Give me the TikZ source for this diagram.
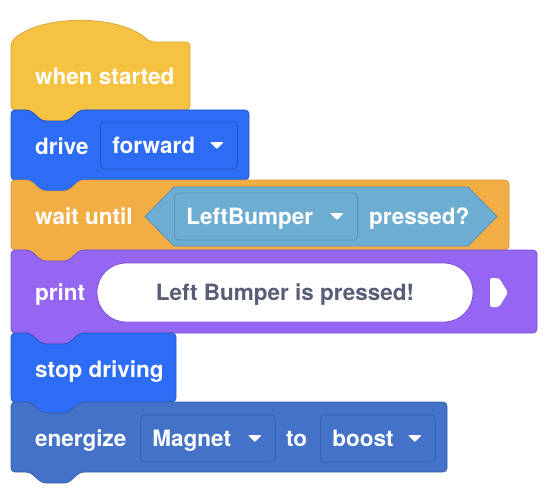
\documentclass[tikz,border=0pt]{standalone}
\usepackage{fontspec}
\setmainfont{TeX Gyre Heros}
\usetikzlibrary{calc,positioning}

\definecolor{hatfill}{HTML}{F5C242}
\definecolor{hatline}{HTML}{D9A93C}
\definecolor{drvfill}{HTML}{2D6CF5}
\definecolor{drvline}{HTML}{2656C4}
\definecolor{ctlfill}{HTML}{F2AE45}
\definecolor{ctlline}{HTML}{D7973C}
\definecolor{snsfill}{HTML}{6DADD2}
\definecolor{snsline}{HTML}{5894BA}
\definecolor{lookfill}{HTML}{9566F2}
\definecolor{lookline}{HTML}{7B50D8}
\definecolor{magfill}{HTML}{4472C8}
\definecolor{magline}{HTML}{3860AE}
\definecolor{msgtext}{HTML}{575E75}

\newcommand{\blockfont}{\bfseries\fontsize{22.5}{27}\selectfont}
% stack block: fill, line, top, bottom, right
\newcommand{\stackblock}[5]{%
  \draw[fill=#1, draw=#2, line width=0.8pt, rounded corners=4pt]
    (11,#3) -- (30,#3) -- (42,#3+11) -- (68,#3+11) -- (80,#3) -- (#5,#3)
    -- (#5,#4) -- (80,#4) -- (68,#4+11) -- (42,#4+11) -- (30,#4) -- (11,#4) -- cycle;}
% dropdown arrow inside a field
\newcommand{\ddmark}[1]{%
  \fill[white, rounded corners=1pt] ($(#1.east)+(-28,-3.5)$) -- ++(14,0) -- ++(-7,7) -- cycle;}

\begin{document}
\begin{tikzpicture}[x=1pt, y=-1pt,
    lbl/.style={anchor=west, inner sep=0pt, text=white, font=\blockfont, text height=16pt, text depth=0pt},
    dd/.style={draw=#1, line width=0.8pt, rounded corners=4pt, anchor=west, inner xsep=12pt, inner ysep=0pt,
      minimum height=47pt, align=left, text=white, font=\blockfont, text height=16pt, text depth=0pt},
    pill/.style={fill=white, draw=lookline, line width=0.8pt, rounded corners=29pt, minimum width=376pt,
      minimum height=59pt, inner sep=0pt, text=msgtext, font=\blockfont, text height=16pt, text depth=0pt}
]
\useasboundingbox (0,0) rectangle (556,500);

% when started
\draw[fill=hatfill, draw=hatline, line width=0.8pt, rounded corners=4pt]
  (11,110) -- (11,42) .. controls (40,14) and (120,14) .. (150,42) -- (190,42) -- (190,110)
  -- (80,110) -- (68,121) -- (42,121) -- (30,110) -- cycle;
\node[lbl] (start) at (35,76.5) {when started};

% drive
\stackblock{drvfill}{drvline}{110}{180}{249}
\node[lbl] (drive) at (35,146) {drive};
\node[dd=drvline, text width=113pt] (dir) at (100,145.5) {forward};
\ddmark{dir}

% wait until
\stackblock{ctlfill}{ctlline}{180}{250}{509}
\node[lbl] (wait) at (35,216.5) {wait until};
\draw[fill=snsfill, draw=snsline, line width=0.8pt]
  (145,216.5) -- (174,187) -- (468,187) -- (497,216.5) -- (468,246) -- (174,246) -- cycle;
\node[dd=snsline, text width=159pt] (bumper) at (174,216.5) {LeftBumper};
\ddmark{bumper}
\node[lbl] (pressed) at (369,216.5) {pressed?};

% print
\stackblock{lookfill}{lookline}{250}{333}{537}
\node[lbl] (print) at (35,292.5) {print};
\node[pill] (msg) at (285,292.5) {Left Bumper is pressed!};
\fill[white, rounded corners=2pt] (490,278) -- (499,278) -- (508,292.5) -- (499,307) -- (490,307) -- cycle;

% stop driving
\stackblock{drvfill}{drvline}{333}{402}{176}
\node[lbl] (stop) at (35,369) {stop driving};

% energize
\stackblock{magfill}{magline}{402}{472}{447}
\node[lbl] (energize) at (35,438.5) {energize};
\node[dd=magline, text width=111pt] (magnet) at (140,438.5) {Magnet};
\ddmark{magnet}
\node[lbl] (to) at (286,438.5) {to};
\node[dd=magline, text width=91pt] (boost) at (320,438.5) {boost};
\ddmark{boost}
\end{tikzpicture}
\end{document}
